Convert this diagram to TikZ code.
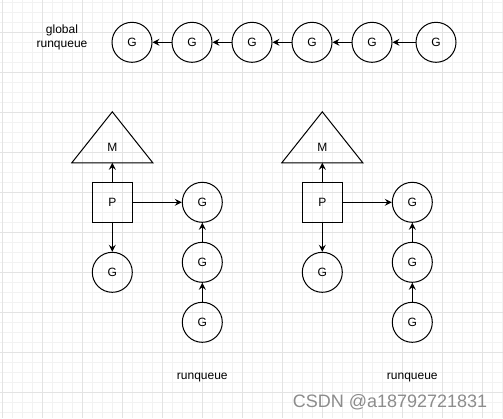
\documentclass[tikz,border=0pt]{standalone}
\usepackage{fontspec}
\setmainfont{Liberation Sans}
\usetikzlibrary{arrows.meta}

\begin{document}
\begin{tikzpicture}[
        x=1pt, y=-1pt,
        line width=1pt,
        font=\fontsize{12}{14}\selectfont
    ]
    \tikzset{
        gnode/.style = {circle, draw=black, minimum size=40pt, inner sep=0pt},
        pnode/.style = {rectangle, draw=black, minimum size=40pt, inner sep=0pt},
        mnode/.style = {rectangle, draw=none, minimum width=80pt, minimum height=50pt, inner sep=0pt},
        link/.style = {-{Stealth[length=7pt,width=7pt,inset=2.5pt]}},
        gridminor/.style = {line width=0.6pt, draw=black!5},
        gridmajor/.style = {line width=0.8pt, draw=black!11}
    }
    \useasboundingbox (0,0) rectangle (503,418);
    \fill[white] (0,0) rectangle (503,418);
    \foreach \x in {2.7,12.7,...,502.7} \draw[gridminor] (\x,0) -- (\x,418);
    \foreach \y in {2.3,12.3,...,412.3} \draw[gridminor] (0,\y) -- (503,\y);
    \foreach \x in {2.7,42.7,...,482.7} \draw[gridmajor] (\x,0) -- (\x,418);
    \foreach \y in {32.3,72.3,...,392.3} \draw[gridmajor] (0,\y) -- (503,\y);

    \node[align=center] (glabel) at (62,37.5) {global\\runqueue};
    \foreach \i/\x in {1/132,2/192,3/252,4/312,5/372,6/436}
        \node[gnode] (gq\i) at (\x,42.3) {G};
    \foreach \a/\b in {2/1,3/2,4/3,5/4,6/5}
        \draw[link] (gq\a) -- (gq\b);

    \foreach \s/\dx in {a/0,b/210} {
        \node[mnode] (m\s) at (112.3+\dx,137.3) {};
        \draw (m\s.south west) -- (m\s.north) -- (m\s.south east) -- cycle;
        \node (mt\s) at ([yshift=-10pt]m\s.center) {M};
        \node[pnode] (p\s) at (112.3+\dx,202.3) {P};
        \node[gnode] (gp\s) at (112.3+\dx,272.3) {G};
        \node[gnode] (q\s1) at (202.3+\dx,202.3) {G};
        \node[gnode] (q\s2) at (202.3+\dx,262.3) {G};
        \node[gnode] (q\s3) at (202.3+\dx,322.3) {G};
        \node (rq\s) at (202.3+\dx,377.5) {runqueue};
        \draw[link] (p\s) -- (m\s);
        \draw[link] (p\s) -- (q\s1);
        \draw[link] (p\s) -- (gp\s);
        \draw[link] (q\s3) -- (q\s2);
        \draw[link] (q\s2) -- (q\s1);
    }

    \node[text=black!45, font=\fontsize{18}{18}\selectfont] (mark) at (390,402) {CSDN @a18792721831};
\end{tikzpicture}
\end{document}
